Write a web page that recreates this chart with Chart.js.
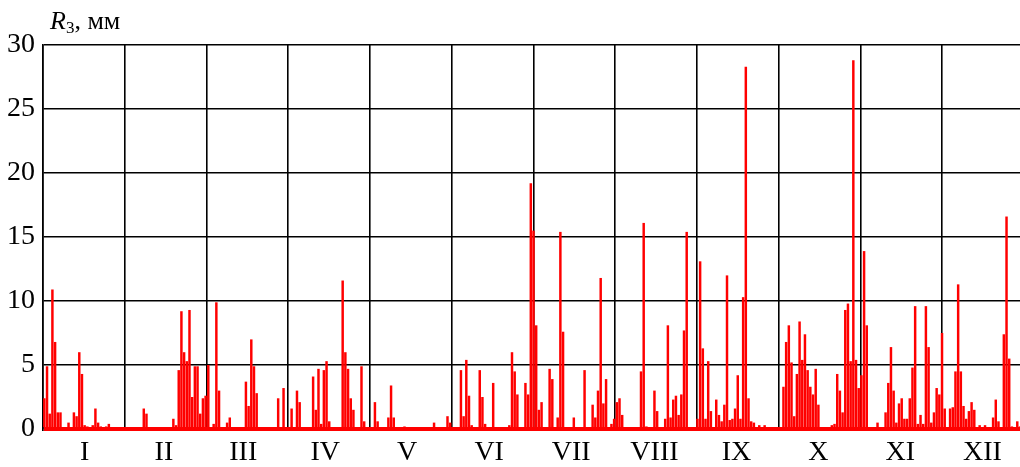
<!DOCTYPE html>
<html>
<head>
<meta charset="utf-8">
<script src="https://cdn.jsdelivr.net/npm/chart.js@4/dist/chart.umd.min.js"></script>
<style>
  html, body { margin: 0; padding: 0; background: #fff; overflow: hidden; }
  #wrap { position: relative; width: 1024px; height: 467px; }
  #unit {
    position: absolute; left: 50px; top: 6px;
    font: 26px 'Liberation Serif', serif; line-height: 30px; color: #000;
  }
  #unit sub { font-size: 17px; vertical-align: -4px; }
</style>
</head>
<body>
<div id="wrap">
  <canvas id="chart"></canvas>
  <div id="unit"><i>R</i><sub>3</sub>, мм</div>
</div>
<script>
// daily precipitation, mm (one value per day)
const jan = [2.4, 4.9, 1.2, 10.9, 6.8, 1.3, 1.3, 0, 0, 0.5, 0, 1.3, 1.0, 6.0, 4.3, 0.3, 0.2, 0, 0.3, 1.6, 0.5, 0.2, 0, 0.2, 0.4, 0, 0, 0, 0, 0, 0];
const feb = [0, 0, 0, 0, 0, 0, 1.6, 1.2, 0, 0, 0, 0, 0, 0, 0, 0, 0, 0.8, 0.3, 4.6, 9.2, 6.0, 5.3, 9.3, 2.5, 4.9, 4.9, 1.2];
const mar = [2.4, 2.6, 5.0, 0, 0.4, 9.9, 3.0, 0, 0, 0.5, 0.9, 0, 0, 0, 0, 0, 3.7, 1.8, 7.0, 4.9, 2.8, 0, 0, 0, 0, 0, 0, 0, 2.4, 0, 3.2];
const apr = [0, 0, 1.6, 0, 3.0, 2.1, 0, 0, 0, 0, 4.1, 1.5, 4.7, 0.4, 4.6, 5.3, 0.6, 0, 0, 0, 0, 11.6, 6.0, 4.7, 2.4, 1.5, 0, 0, 4.9, 0.6];
const may = [0, 0, 0, 2.1, 0.6, 0, 0, 0, 0.9, 3.4, 0.9, 0, 0, 0, 0.2, 0, 0, 0, 0, 0, 0, 0, 0, 0, 0, 0.5, 0, 0, 0, 0, 1.0];
const jun = [0.5, 0, 0, 0, 4.6, 1.0, 5.4, 2.6, 0.3, 0, 0, 4.6, 2.5, 0.4, 0, 0, 3.6, 0, 0, 0, 0, 0, 0.3, 6.0, 4.5, 2.7, 0, 0, 3.6, 2.7];
const jul = [19.2, 15.5, 8.1, 1.5, 2.1, 0, 0, 4.7, 3.9, 0, 0.9, 15.4, 7.6, 0, 0, 0, 0.9, 0, 0, 0, 4.6, 0, 0, 1.9, 0.9, 3.0, 11.8, 2.0, 3.9, 0, 0.4];
const aug = [0.8, 2.1, 2.4, 1.1, 0, 0, 0, 0, 0, 0, 4.5, 16.1, 0.2, 0, 0, 3.0, 1.4, 0, 0, 0.8, 8.1, 0.9, 2.3, 2.6, 1.1, 2.7, 7.7, 15.4, 0, 0, 0];
const sep = [0.8, 13.1, 6.3, 0.8, 5.3, 1.4, 0, 2.3, 1.1, 0.6, 1.9, 12.0, 0.7, 0.8, 1.6, 4.2, 0.8, 10.3, 28.3, 2.4, 0.6, 0.5, 0, 0.3, 0, 0.3, 0, 0, 0, 0];
const oct = [0, 0, 3.3, 6.8, 8.1, 5.2, 1.0, 4.3, 8.4, 5.4, 7.4, 4.6, 3.3, 2.7, 4.7, 1.9, 0, 0, 0, 0, 0.3, 0.4, 4.3, 3.0, 1.3, 9.3, 9.8, 5.3, 28.8, 5.4, 3.2];
const nov = [4.2, 13.9, 8.1, 0, 0, 0, 0.5, 0, 0, 1.3, 3.6, 6.4, 3.0, 0.5, 2.0, 2.4, 0.8, 0.8, 2.4, 4.8, 9.6, 0.4, 1.1, 0.4, 9.6, 6.4, 0.5, 1.3, 3.2, 2.7];
const dec = [7.5, 1.6, 0, 1.6, 1.7, 4.5, 11.3, 4.5, 1.8, 0.8, 1.4, 2.1, 1.5, 0, 0.3, 0, 0.3, 0, 0, 0.9, 2.3, 0.6, 0, 7.4, 16.6, 5.5, 0.2, 0, 0.6, 0.2, 0];

const months = [jan, feb, mar, apr, may, jun, jul, aug, sep, oct, nov, dec];
const monthLabels = ['I', 'II', 'III', 'IV', 'V', 'VI', 'VII', 'VIII', 'IX', 'X', 'XI', 'XII'];
const yTicks = [0, 5, 10, 15, 20, 25, 30];

const daily = months.flat();
const nDays = daily.length;

// month centres on the day axis, from the month lengths
let start = 0;
const monthMid = months.map(m => { const c = start + m.length / 2; start += m.length; return c; });

const serif = "'Liberation Serif', 'Times New Roman', serif";

new Chart(document.getElementById('chart'), {
    type: 'bar',
    data: {
        datasets: [{
            data: daily.map((v, i) => ({ x: i + 0.5, y: v })),
            backgroundColor: '#ff0000',
            borderWidth: 0,
            barPercentage: 1,
            categoryPercentage: 0.92
        }]
    },
    options: {
        responsive: true,
        maintainAspectRatio: false,
        animation: false,
        layout: { padding: { top: 45, right: 0, left: 0, bottom: 0 } },
        plugins: { legend: { display: false }, tooltip: { enabled: false } },
        scales: {
            x: {
                type: 'linear',
                min: 0,
                max: nDays,
                offset: false,
                afterBuildTicks: axis => {
                    axis.ticks = Array.from({ length: 13 }, (_, i) => ({ value: i * nDays / 12 }));
                },
                afterFit: axis => { axis.height = 0; },
                ticks: { display: false },
                grid: { color: '#000', lineWidth: 1.6, drawTicks: false, offset: false },
                border: { display: false }
            },
            months: {
                type: 'linear',
                position: 'bottom',
                min: 0,
                max: nDays,
                offset: false,
                afterBuildTicks: axis => {
                    axis.ticks = monthMid.map(v => ({ value: v }));
                },
                afterFit: axis => { axis.height = 38; },
                grid: { display: false, drawTicks: false, offset: false },
                border: { display: false },
                ticks: {
                    autoSkip: false,
                    maxRotation: 0,
                    padding: 7,
                    color: '#000',
                    font: { family: serif, size: 28 },
                    callback: (v, i) => monthLabels[i]
                }
            },
            y: {
                min: 0,
                max: 30,
                afterBuildTicks: axis => {
                    axis.ticks = yTicks.map(v => ({ value: v }));
                },
                afterFit: axis => { axis.width = 43; },
                grid: {
                    drawTicks: false,
                    color: c => c.tick && c.tick.value === 0 ? '#ff0000' : '#000',
                    lineWidth: c => c.tick && c.tick.value === 0 ? 4 : 1.6
                },
                border: { color: '#000', width: 1.6 },
                ticks: {
                    padding: 8,
                    color: '#000',
                    font: { family: serif, size: 28 }
                }
            }
        }
    }
});
</script>
</body>
</html>
